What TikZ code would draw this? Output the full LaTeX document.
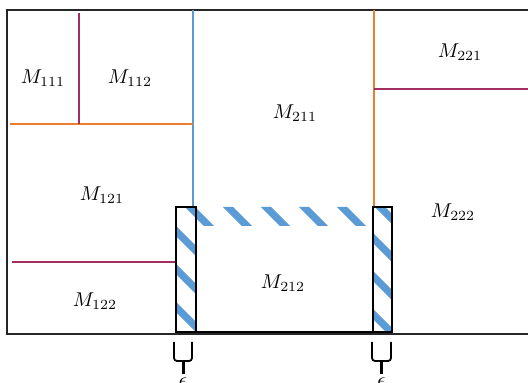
\documentclass[tikz,border=0pt]{standalone}
\usepackage{tikz}
\usetikzlibrary{positioning}

\definecolor{cutblue}{RGB}{91,155,213}
\definecolor{cutorange}{RGB}{237,125,49}
\definecolor{cutplum}{RGB}{163,46,98}

\begin{document}
\begin{tikzpicture}
		[x=0.5pt, y=-0.5pt,
		outer/.style={draw=black!85, line width=1pt},
		cut line/.style={draw=#1, line width=0.75pt},
		cut line/.default=cutblue,
		strip box/.style={draw=black, line width=0.75pt},
		hatch/.style={draw=cutblue, line width=3.6pt},
		fork/.style={draw=black, line width=0.9pt, rounded corners=1.5pt},
		stem/.style={draw=black, line width=1.5pt},
		block/.style={inner sep=1pt}]

		\def \Sy {207};
		\def \Sb {332};
		\def \Band {226};

		\useasboundingbox (0,0) rectangle (528,383);
		\clip (0,0) rectangle (528,383);

		% outer plate
		\draw[outer] (7,10) rectangle (546,334);

		% cuts
		\draw[cut line] (193,10) -- (193,\Sy);
		\draw[cut line=cutorange] (10,124) -- (193,124);
		\draw[cut line=cutplum] (79,13) -- (79,124);
		\draw[cut line=cutorange] (374,10) -- (374,\Sy);
		\draw[cut line=cutplum] (374,89) -- (546,89);
		\draw[cut line=cutplum] (12,262) -- (176,262);

		% hatched margin
		\begin{scope}
			\clip (176,\Sy) rectangle (196,\Sb)
				(196,\Sy) rectangle (373,\Band)
				(373,\Sy) rectangle (392,\Sb);
			\foreach \c in {-169,-131,...,211}
				\draw[hatch] (\c+150,150) -- (\c+350,350);
		\end{scope}
		\draw[strip box] (176,\Sy) rectangle (196,\Sb);
		\draw[strip box] (373,\Sy) rectangle (392,\Sb);
		\draw[strip box] (196,\Sb) -- (373,\Sb);

		% labels
		\node[block] (m111) at (43,78) {$M_{111}$};
		\node[block] (m112) at (130,78) {$M_{112}$};
		\node[block] (m121) at (102,195) {$M_{121}$};
		\node[block] (m122) at (95,301) {$M_{122}$};
		\node[block] (m211) at (295,113) {$M_{211}$};
		\node[block] (m212) at (283,283) {$M_{212}$};
		\node[block] (m221) at (460,52) {$M_{221}$};
		\node[block] (m222) at (453,212) {$M_{222}$};

		% widths of the margin
		\draw[fork] (174,342) -- (174,361) -- (192,361) -- (192,342);
		\draw[fork] (372,342) -- (372,361) -- (391,361) -- (391,342);
		\coordinate (lstem) at (183,374);
		\coordinate (rstem) at (381.5,374);
		\draw[stem] (183,361) -- (lstem);
		\draw[stem] (381.5,361) -- (rstem);
		\node[inner sep=0pt, below=1.5pt of lstem] (leps) {$\epsilon$};
		\node[inner sep=0pt, below=1.5pt of rstem] (reps) {$\epsilon$};

	\end{tikzpicture}
\end{document}
